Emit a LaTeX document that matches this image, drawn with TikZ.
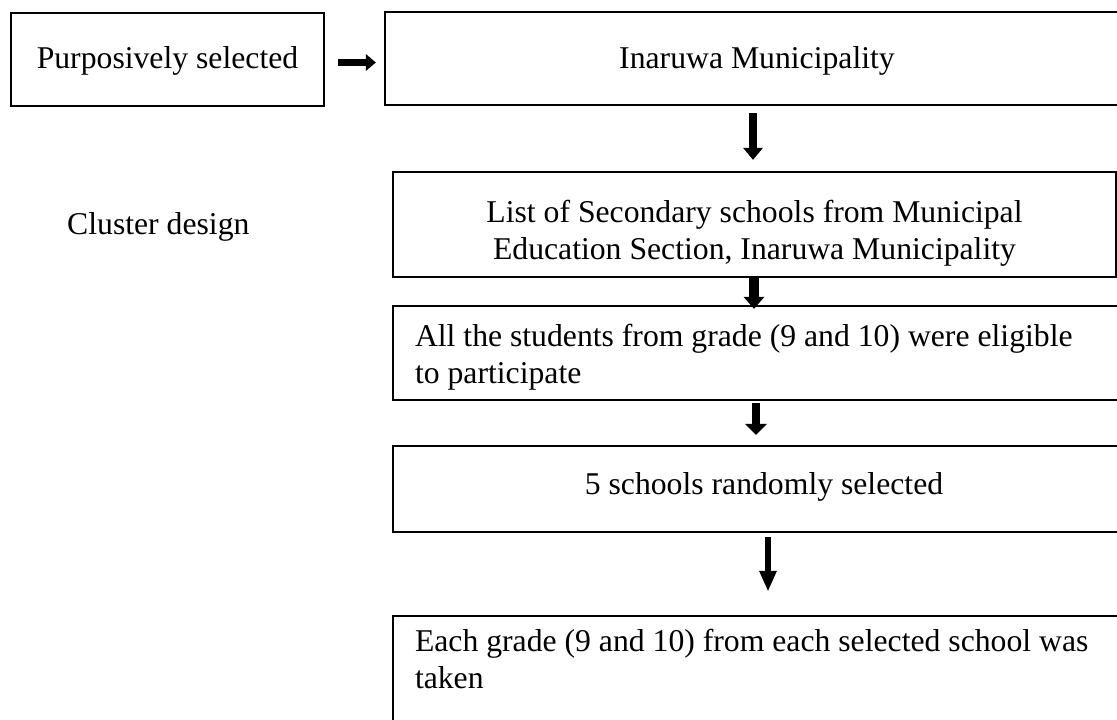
\documentclass[tikz,border=0pt]{standalone}
\usepackage{fontspec}
\setmainfont{Liberation Serif}
\usetikzlibrary{arrows.meta,calc}
\begin{document}
\begin{tikzpicture}[x=1pt,y=-1pt,
  txt/.style={font=\fontsize{31.7pt}{37pt}\selectfont},
  box/.style={txt, draw=black, line width=2.4pt, rectangle, inner xsep=0pt, inner ysep=0pt},
  blk/.style n args={3}{draw=black, line width=#1, -{Triangle[width=#2,length=#3,line width=0pt]}}
]
\useasboundingbox (0,0) rectangle (1117,720);
\clip (0,0) rectangle (1117,720);

% boxes of the sampling chain
\node[box, minimum width=313pt, minimum height=93pt, text height=55pt, text depth=38pt]
  (A) at (167.5,59.5) {Purposively selected};
\node[box, minimum width=744pt, minimum height=93pt, text height=56pt, text depth=37pt]
  (B) at (757,58.5) {Inaruwa Municipality};
\node[box, minimum width=723pt, align=center]
  (C) at (754.5,224.5) {\rule{0pt}{50pt}List of Secondary schools from Municipal\\Education Section, Inaruwa Municipality\rule[-18pt]{0pt}{18pt}};
\node[box, inner xsep=22pt, text width=740pt, align=flush left]
  (D) at (785,353) {\rule{0pt}{40pt}All the students from grade (9 and 10) were eligible\\to participate\rule[-17pt]{0pt}{17pt}};
\node[box, minimum width=742pt, minimum height=86pt, text height=48pt, text depth=38pt]
  (E) at (764,489) {5 schools randomly selected};
\node[box, inner xsep=22pt, text width=740pt, align=flush left]
  (F) at (785,678) {\rule{0pt}{35pt}Each grade (9 and 10) from each selected school was\\taken\rule[-52pt]{0pt}{52pt}};

% side label
\node[txt, inner sep=0pt, anchor=base west] (L) at (67,234) {Cluster design};

% block arrows
\draw[blk={7pt}{17pt}{10pt}] ([xshift=13pt,yshift=-3pt]A.east) -- ([xshift=-8pt,yshift=-4pt]B.west);
\draw[blk={8pt}{20pt}{12pt}] ([xshift=-4pt,yshift=-7pt]B.south) -- ([xshift=-1.5pt,yshift=11pt]C.north);
\draw[blk={10pt}{21pt}{12pt}] ([xshift=-0.5pt]C.south) -- ([xshift=-31pt,yshift=-4pt]D.north);
\draw[blk={8pt}{22pt}{11pt}] ([xshift=-29pt,yshift=-2pt]D.south) -- ([xshift=-8pt,yshift=10pt]E.north);
\draw[blk={6pt}{18pt}{20pt}] ([xshift=4pt,yshift=-4pt]E.south) -- ([xshift=-17pt,yshift=24pt]F.north);
\end{tikzpicture}
\end{document}
